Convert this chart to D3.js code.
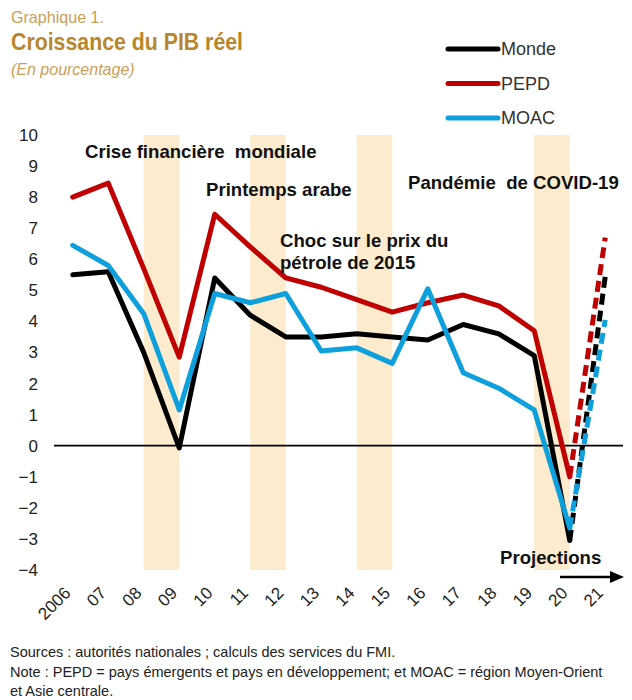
<!DOCTYPE html>
<html>
<head>
<meta charset="utf-8">
<script src="https://cdn.jsdelivr.net/npm/d3@7"></script>
<style>
  body { margin: 0; background: #fff; }
  svg text { font-family: Arial, "Liberation Sans", sans-serif; }
</style>
</head>
<body>
<script>
// years on the x axis and their tick labels
var years = ["2006","2007","2008","2009","2010","2011","2012","2013","2014","2015","2016","2017","2018","2019","2020","2021"];
var yearLabels = ["2006","07","08","09","10","11","12","13","14","15","16","17","18","19","20","21"];
var yTicks = [10,9,8,7,6,5,4,3,2,1,0,-1,-2,-3,-4];

// real GDP growth (percent), 2021 is a projection
var monde = [5.5, 5.6, 3.0, -0.07, 5.4, 4.2, 3.5, 3.5, 3.6, 3.5, 3.4, 3.9, 3.6, 2.9, -3.05, 5.45];
var pepd  = [8.0, 8.45, 5.7, 2.85, 7.45, 6.4, 5.4, 5.1, 4.7, 4.3, 4.6, 4.85, 4.5, 3.7, -1.0, 6.7];
var moac  = [6.45, 5.8, 4.25, 1.15, 4.9, 4.6, 4.9, 3.05, 3.15, 2.65, 5.05, 2.35, 1.85, 1.15, -2.65, 4.05];

// shaded episodes: from year to year
var bandsFrom = ["2008","2011","2014","2019"];
var bandsTo   = ["2009","2012","2015","2020"];

var width = 632, height = 700;

var svg = d3.select("body").append("svg")
    .attr("width", width)
    .attr("height", height);

var x = d3.scaleBand()
    .domain(years)
    .range([55, 623]);
var cx = function(yr){ return x(yr) + x.bandwidth() / 2; };

var y = d3.scaleLinear()
    .domain([-4, 10])
    .range([570, 135]);

//shaded bands
svg.selectAll(".band")
    .data(bandsFrom)
    .enter()
    .append("rect")
    .attr("class", "band")
    .attr("x", function(d){ return cx(d); })
    .attr("width", function(d, i){ return cx(bandsTo[i]) - cx(d); })
    .attr("y", y(10))
    .attr("height", y(-4) - y(10))
    .attr("fill", "#fcebcc");

//zero line
svg.append("line")
    .attr("x1", 54).attr("x2", 623)
    .attr("y1", y(0)).attr("y2", y(0))
    .attr("stroke", "#000")
    .attr("stroke-width", 1.8);

//y axis labels
svg.selectAll(".ylab")
    .data(yTicks)
    .enter()
    .append("text")
    .attr("class", "ylab")
    .attr("x", 38)
    .attr("y", function(d){ return y(d); })
    .attr("dy", "0.35em")
    .attr("text-anchor", "end")
    .attr("font-size", 17)
    .attr("fill", "#222")
    .text(function(d){ return d < 0 ? "\u2212" + Math.abs(d) : d; });

//x axis labels
svg.selectAll(".xlab")
    .data(years)
    .enter()
    .append("text")
    .attr("class", "xlab")
    .attr("transform", function(d){ return "translate(" + (cx(d) - 1) + ",594) rotate(-45)"; })
    .attr("text-anchor", "end")
    .attr("font-size", 17)
    .attr("fill", "#222")
    .text(function(d, i){ return yearLabels[i]; });

var series = [
    {name: "PEPD", values: pepd, color: "#c00000"},
    {name: "Monde", values: monde, color: "#000000"},
    {name: "MOAC", values: moac, color: "#0ea0dc"}
];

var line = d3.line()
    .x(function(d){ return cx(d.year); })
    .y(function(d){ return y(d.v); });

series.forEach(function(s){
    var pts = years.map(function(yr, i){ return {year: yr, v: s.values[i]}; });
    //actual values
    svg.append("path")
        .datum(pts.slice(0, 15))
        .attr("d", line)
        .attr("fill", "none")
        .attr("stroke", s.color)
        .attr("stroke-width", 5)
        .attr("stroke-linejoin", "round")
        .attr("stroke-linecap", "round");
    //projection
    svg.append("path")
        .datum(pts.slice(14))
        .attr("d", line)
        .attr("fill", "none")
        .attr("stroke", s.color)
        .attr("stroke-width", 5)
        .attr("stroke-dasharray", "11,6");
});

//annotations
var notes = [
    {t: "Crise financière  mondiale", x: 85, y: 158},
    {t: "Printemps arabe", x: 206, y: 196},
    {t: "Choc sur le prix du", x: 280, y: 247},
    {t: "pétrole de 2015", x: 280, y: 269},
    {t: "Pandémie  de COVID-19", x: 408, y: 189},
    {t: "Projections", x: 500, y: 564}
];
svg.selectAll(".note")
    .data(notes)
    .enter()
    .append("text")
    .attr("class", "note")
    .attr("x", function(d){ return d.x; })
    .attr("y", function(d){ return d.y; })
    .attr("font-size", 18.6)
    .attr("font-weight", "bold")
    .attr("fill", "#111")
    .style("white-space", "pre")
    .text(function(d){ return d.t; });

//projection arrow
svg.append("line")
    .attr("x1", 560).attr("x2", 612)
    .attr("y1", 577).attr("y2", 577)
    .attr("stroke", "#000")
    .attr("stroke-width", 2.5);
svg.append("path")
    .attr("d", "M610,571 L624,577 L610,583 Z")
    .attr("fill", "#000");

//legend
var legend = svg.selectAll(".legend")
    .data([series[1], series[0], series[2]])
    .enter()
    .append("g")
    .attr("class", "legend")
    .attr("transform", function(d, i){ return "translate(448," + (49 + i * 34.5) + ")"; });
legend.append("line")
    .attr("x1", 0).attr("x2", 50)
    .attr("stroke", function(d){ return d.color; })
    .attr("stroke-width", 5)
    .attr("stroke-linecap", "round");
legend.append("text")
    .attr("x", 53)
    .attr("dy", "0.35em")
    .attr("font-size", 18)
    .attr("fill", "#333")
    .text(function(d){ return d.name; });

//titles
svg.append("text")
    .attr("x", 11).attr("y", 23)
    .attr("font-size", 17)
    .attr("fill", "#c9a055")
    .attr("textLength", 93)
    .attr("lengthAdjust", "spacingAndGlyphs")
    .text("Graphique 1.");
svg.append("text")
    .attr("x", 11).attr("y", 50)
    .attr("font-size", 24)
    .attr("font-weight", "bold")
    .attr("fill", "#b8862b")
    .attr("textLength", 232)
    .attr("lengthAdjust", "spacingAndGlyphs")
    .text("Croissance du PIB réel");
svg.append("text")
    .attr("x", 11).attr("y", 75)
    .attr("font-size", 16)
    .attr("font-style", "italic")
    .attr("fill", "#c9a055")
    .text("(En pourcentage)");

//sources and notes
var foot = [
    "Sources : autorités nationales ; calculs des services du FMI.",
    "Note : PEPD = pays émergents et pays en développement; et MOAC = région Moyen-Orient",
    "et Asie centrale."
];
svg.selectAll(".foot")
    .data(foot)
    .enter()
    .append("text")
    .attr("class", "foot")
    .attr("x", 10)
    .attr("y", function(d, i){ return 657 + i * 19.5; })
    .attr("font-size", 14.5)
    .attr("fill", "#222")
    .text(function(d){ return d; });
</script>
</body>
</html>
